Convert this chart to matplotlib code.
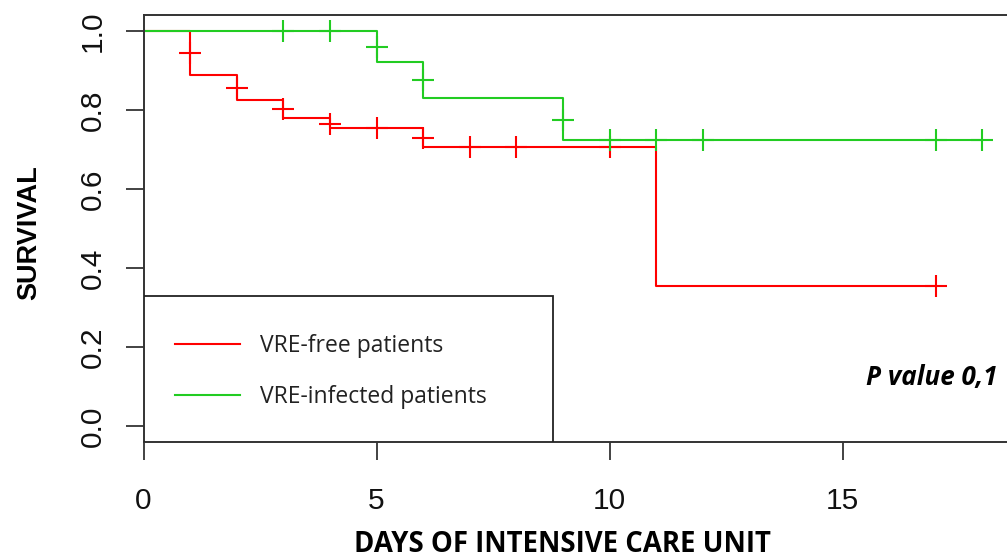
import matplotlib
matplotlib.use('Agg')
import matplotlib.pyplot as plt
from matplotlib.patches import Rectangle

# Kaplan-Meier steps
free_times = [0, 1, 2, 3, 4, 6, 11, 17]
free_surv = [1.0, 0.887, 0.825, 0.779, 0.755, 0.705, 0.354, 0.354]
free_cens_t = [1, 2, 3, 4, 5, 6, 7, 8, 10, 17]
free_cens_s = [0.943, 0.856, 0.801, 0.765, 0.755, 0.730, 0.705, 0.705, 0.705, 0.354]

inf_times = [0, 5, 6, 9, 18]
inf_surv = [1.0, 0.922, 0.830, 0.724, 0.724]
inf_cens_t = [3, 4, 5, 6, 9, 10, 11, 12, 17, 18]
inf_cens_s = [1.0, 1.0, 0.958, 0.876, 0.775, 0.724, 0.724, 0.724, 0.724, 0.724]

labels = ['VRE-free patients', 'VRE-infected patients']
colors = ['#FF0000', '#22CC22']
x_ticks = [0, 5, 10, 15]
y_ticks = [0.0, 0.2, 0.4, 0.6, 0.8, 1.0]

W, H = 1007, 559
fig = plt.figure(figsize=(W / 100, H / 100), dpi=100)
# axes runs a bit past the right edge, like the cropped original
ax = fig.add_axes([143.5 / W, 117 / H, (1016 - 143.5) / W, 427 / H])
ax.set_xlim(0, 18.72)
ax.set_ylim(-0.04, 1.04)

ax.step(free_times, free_surv, where='post', color=colors[0], lw=1.5, label=labels[0])
ax.plot(free_cens_t, free_cens_s, ls='none', marker='+', ms=16, mew=1.5, color=colors[0])
ax.step(inf_times, inf_surv, where='post', color=colors[1], lw=1.5, label=labels[1])
ax.plot(inf_cens_t, inf_cens_s, ls='none', marker='+', ms=16, mew=1.5, color=colors[1])

for s in ['top', 'left', 'bottom']:
    ax.spines[s].set_linewidth(1.4)
    ax.spines[s].set_color('#333333')
ax.spines['right'].set_visible(False)

ax.set_xticks(x_ticks)
ax.set_yticks(y_ticks)
ax.set_yticklabels([f'{v:.1f}' for v in y_ticks])
ax.tick_params(length=13, width=1.2, color='#222222')
ax.tick_params(axis='x', pad=19.5)
ax.tick_params(axis='y', pad=13.5, labelrotation=90)
for t in ax.get_xticklabels() + ax.get_yticklabels():
    t.set_fontfamily('Liberation Sans')
    t.set_fontsize(21.5)
    t.set_color('#111111')
for t in ax.get_yticklabels():
    t.set_va('center')

# legend box
ax.add_patch(Rectangle((0, -0.04), 8.79, 0.37, facecolor='white',
                       edgecolor='#222222', lw=1.3, zorder=3))
leg = ax.legend(loc='upper left', bbox_to_anchor=(0.036, 0.252), frameon=False,
                borderpad=0, borderaxespad=0, handlelength=2.85, handletextpad=0.85,
                labelspacing=1.15, prop={'family': 'Open Sans', 'size': 16.5})
leg.set_zorder(4)
for t in leg.get_texts():
    t.set_color('#222222')

fig.text(998 / W, 1 - 377 / H, 'P value 0,1', ha='right', va='center',
         fontfamily='Open Sans', fontweight='bold', fontstyle='italic', fontsize=18.7)
fig.text(29 / W, 1 - 233 / H, 'SURVIVAL', rotation=90, ha='center', va='center',
         fontfamily='Liberation Sans', fontweight='bold', fontsize=19.5)
fig.text(562 / W, 1 - 545 / H, 'DAYS OF INTENSIVE CARE UNIT', ha='center', va='center',
         fontfamily='Open Sans', fontweight='bold', fontsize=19.8)

fig.savefig('out.png', dpi=100)
